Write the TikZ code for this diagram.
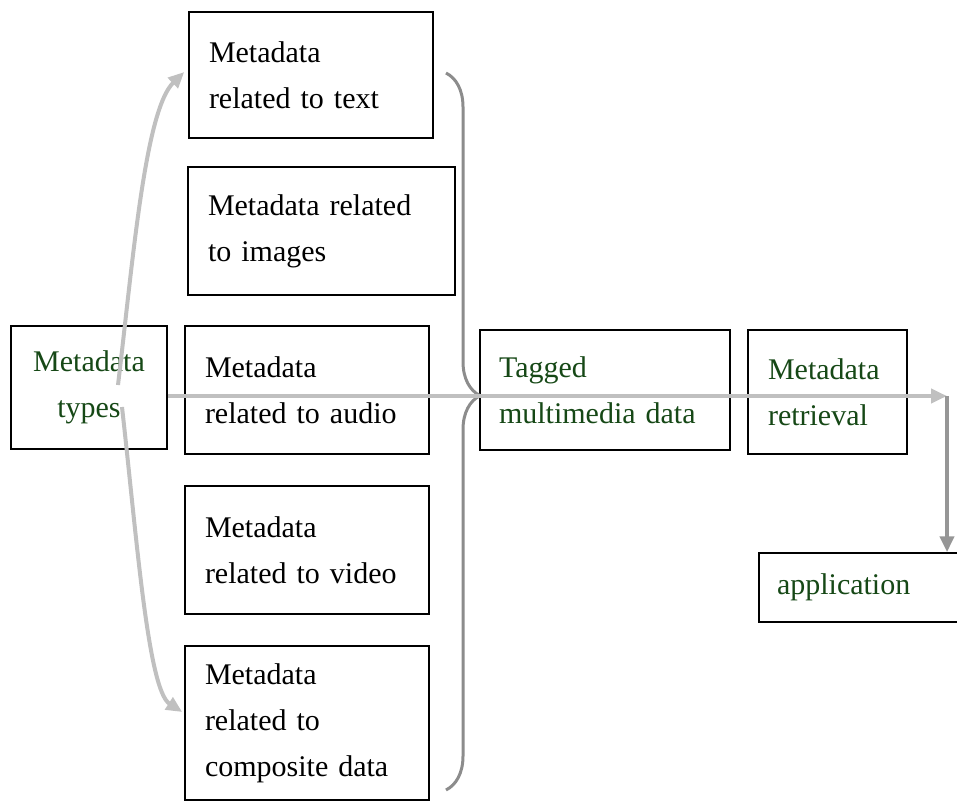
\documentclass[tikz,border=0pt]{standalone}
\usepackage{fontspec}
\setmainfont{Liberation Serif}
\usetikzlibrary{arrows.meta,calc,decorations.pathreplacing}
\definecolor{labelgreen}{RGB}{22, 72, 22}
\definecolor{flowgray}{RGB}{192, 192, 192}
\definecolor{bracegray}{RGB}{140, 140, 140}
\definecolor{downgray}{RGB}{150, 150, 150}

\begin{document}
\begin{tikzpicture}[x=1pt, y=-1pt,
    metabox/.style={rectangle, draw, line width=1.5pt, inner xsep=20pt, inner ysep=0pt, align=left, font=\fontsize{30}{46}\selectfont},
    greenbox/.style={metabox, text=labelgreen},
    flow/.style={-{Triangle[length=16pt,width=14pt]}, flowgray, line width=4pt},
    down/.style={-{Triangle[length=16pt,width=14pt]}, downgray, line width=4pt}
]
    \useasboundingbox (0,0) rectangle (957,810);

    % Types
    \node[greenbox, align=center, inner xsep=0pt, text width=156pt, minimum height=123pt] (types) at (89,387.5) {Metadata\\types};

    % Metadata boxes
    \node[metabox, text width=204pt, minimum height=126pt] (text) at (311,75) {Metadata\\related to text};
    \node[metabox, text width=227pt, minimum height=128pt] (images) at (321.5,231) {Metadata related\\to images};
    \node[metabox, text width=204pt, minimum height=128pt] (audio) at (307,390) {Metadata\\related to audio};
    \node[metabox, text width=204pt, minimum height=128pt] (video) at (307,550) {Metadata\\related to video};
    \node[metabox, text width=204pt, minimum height=154pt] (composite) at (307,723) {Metadata\\related to\\composite data};

    % Right side
    \node[greenbox, inner xsep=19pt, text width=212pt, minimum height=120pt] (tagged) at (605,390) {Tagged\\multimedia data};
    \node[greenbox, text width=119pt, minimum height=124pt] (retrieval) at (827.5,392) {Metadata\\retrieval};
    \node[greenbox, inner xsep=18pt, text width=204pt, minimum height=69pt] (application) at (879,587.5) {application};

    % Brace
    \draw[bracegray, line width=3pt, decorate, decoration={brace, amplitude=34pt, aspect=0.45}] (446,73) -- (446,790);

    % Arrows
    \coordinate (upstart) at (118,385);
    \coordinate (downstart) at (122,407);
    \coordinate (flowend) at (947,396);
    \draw[flow] (upstart) .. controls (133,260) and (145,110) .. ([xshift=-4pt,yshift=3pt]text.west);
    \draw[flow] (downstart) .. controls (137,540) and (148,690) .. ([xshift=-2pt,yshift=11pt]composite.west);
    \draw[flow] (types.east |- flowend) -- (flowend);
    \draw[down] (flowend) -- (flowend |- application.north);
\end{tikzpicture}
\end{document}
